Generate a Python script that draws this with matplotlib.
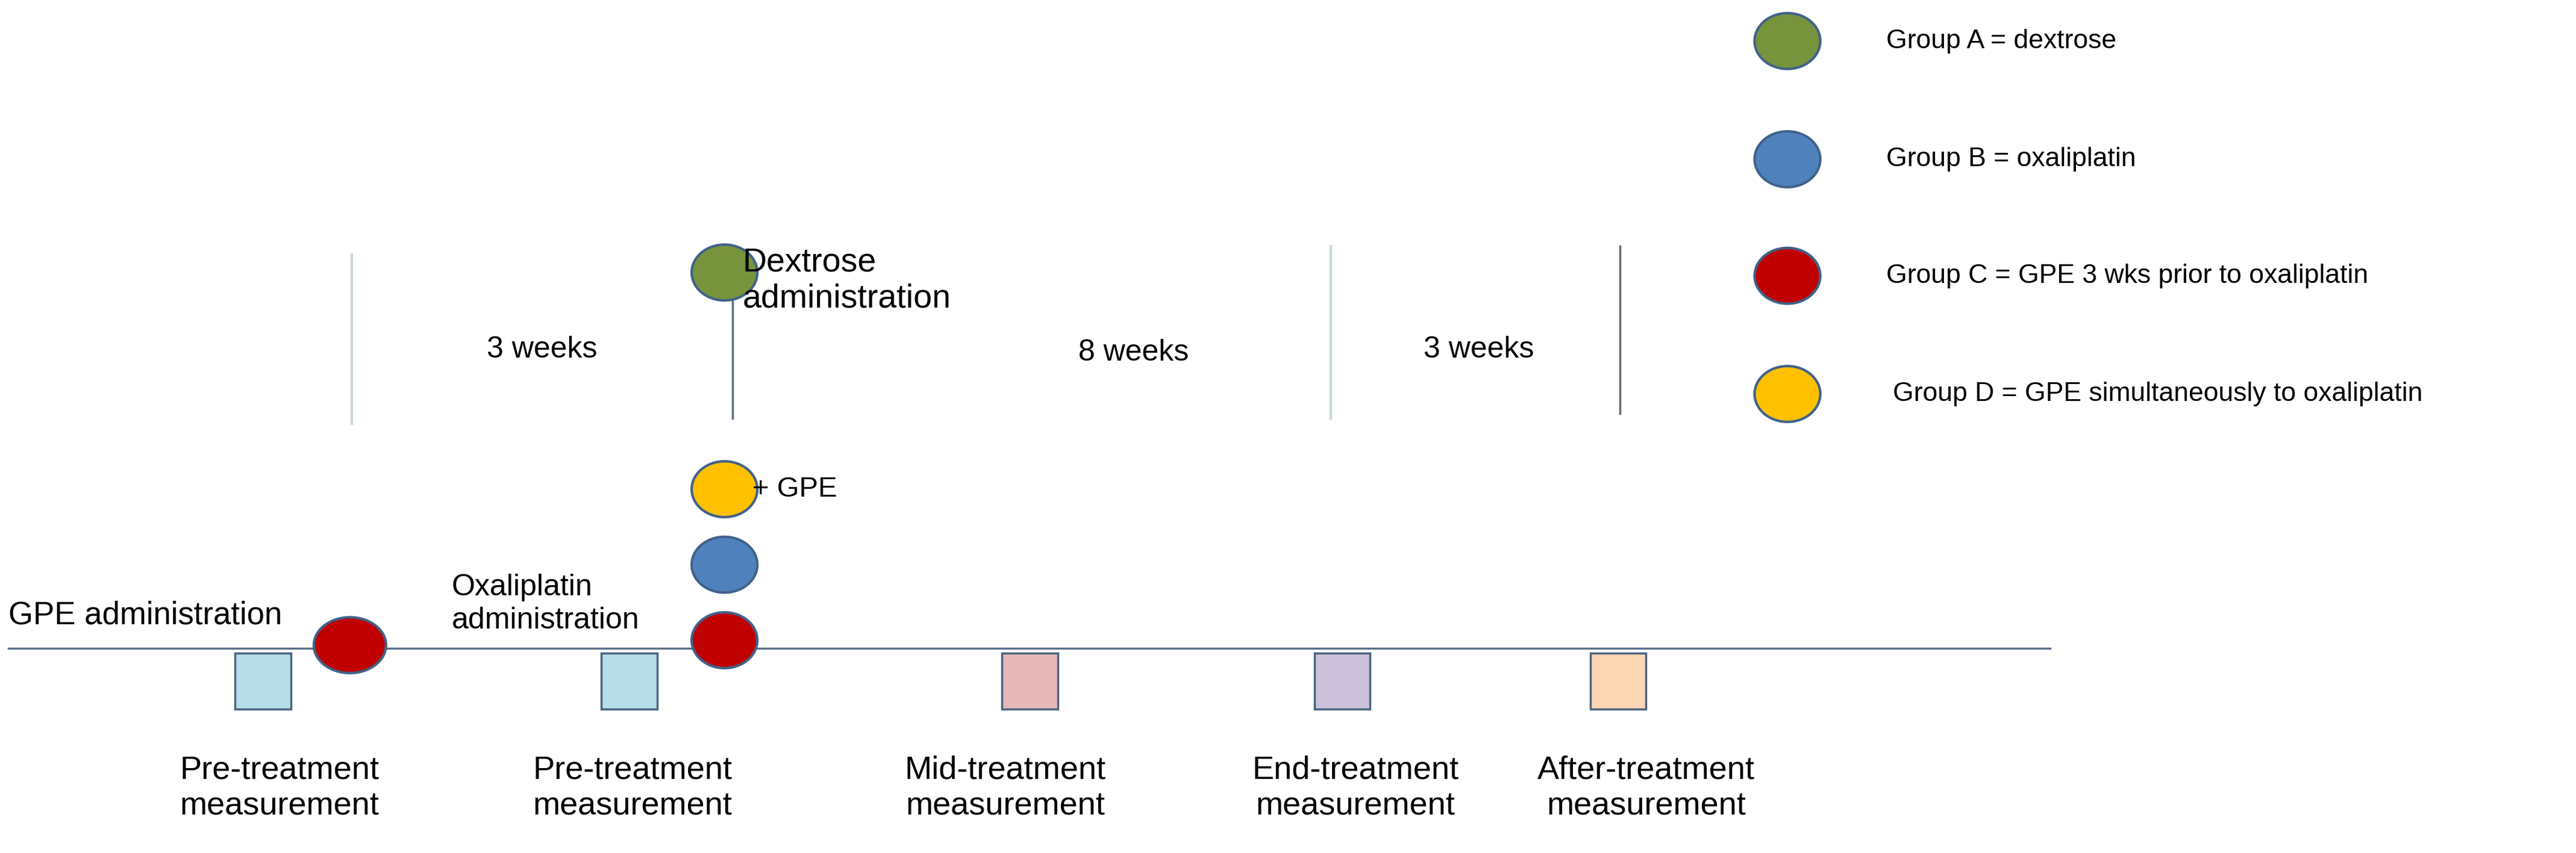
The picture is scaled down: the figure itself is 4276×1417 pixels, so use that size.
import matplotlib
matplotlib.use("Agg")
import matplotlib.pyplot as plt
from matplotlib.patches import Ellipse, Rectangle

plt.rcParams['font.family'] = ['Liberation Sans', 'DejaVu Sans']

# data (display units, reference image scaled to 1568 px wide)
measure_labels = ["Pre-treatment\nmeasurement", "Pre-treatment\nmeasurement", "Mid-treatment\nmeasurement",
                  "End-treatment\nmeasurement", "After-treatment\nmeasurement"]
measure_x = [160, 383, 627, 817, 985]
measure_label_x = [170, 385, 612, 825, 1002]
measure_colors = ["#b7dde8", "#b7dde8", "#e6b9b8", "#ccc1da", "#fcd5b5"]

legend_labels = ["Group A = dextrose", "Group B = oxaliplatin",
                 "Group C = GPE 3 wks prior to oxaliplatin", "Group D = GPE simultaneously to oxaliplatin"]
legend_colors = ["#77933c", "#4f81bd", "#c00000", "#ffc000"]
legend_y = [25, 97, 168, 240]

period_labels = ["3 weeks", "8 weeks", "3 weeks"]
period_x = [330, 690, 900]
period_y = [213, 215, 213]

W, H = 1568, 1568 * 1417 / 4276
fig = plt.figure(figsize=(42.76, 14.17), dpi=100)
ax = fig.add_axes([0, 0, 1, 1])
ax.set_xlim(0, W)
ax.set_ylim(H, 0)
ax.axis('off')

edge = "#41628a"
def circ(x, y, c, w=40, h=34):
    ax.add_patch(Ellipse((x, y), w, h, facecolor=c, edgecolor=edge, lw=3, zorder=3))

# baseline
ax.plot([5, 1248], [395, 395], color="#5a6f8a", lw=2.5, zorder=1)
# vertical separators
ax.plot([214, 214], [155, 258], color="#c9d6de", lw=3)
ax.plot([810, 810], [150, 255], color="#c9d6de", lw=3)
ax.plot([986, 986], [150, 252], color="#6a6a6a", lw=2.5)
ax.plot([446, 446], [175, 255], color="#5a6f8a", lw=2.5)

# event circles
circ(441, 166, legend_colors[0])
circ(441, 298, legend_colors[3])
circ(441, 344, legend_colors[1])
circ(441, 390, legend_colors[2])
circ(213, 393, legend_colors[2], w=44)

# squares
for x, c in zip(measure_x, measure_colors):
    ax.add_patch(Rectangle((x - 17, 398), 34, 34, facecolor=c, edgecolor="#4a6580", lw=2.5, zorder=2))
for x, t in zip(measure_label_x, measure_labels):
    ax.text(x, 480, t, ha='center', va='center', fontsize=39, linespacing=1.25)

for x, y, t in zip(period_x, period_y, period_labels):
    ax.text(x, y, t, ha='center', va='center', fontsize=36)

ax.text(452, 171, "Dextrose\nadministration", ha='left', va='center', fontsize=40, linespacing=1.2)
ax.text(458, 298, "+ GPE", ha='left', va='center', fontsize=34)
ax.text(5, 375, "GPE administration", ha='left', va='center', fontsize=38)
ax.text(275, 368, "Oxaliplatin\nadministration", ha='left', va='center', fontsize=36, linespacing=1.25)

for y, c, t in zip(legend_y, legend_colors, legend_labels):
    circ(1088, y, c)
    ax.text(1148 if not t.startswith("Group D") else 1152, y, t, ha='left', va='center', fontsize=32)

fig.savefig("out.png", dpi=100, facecolor="white")
